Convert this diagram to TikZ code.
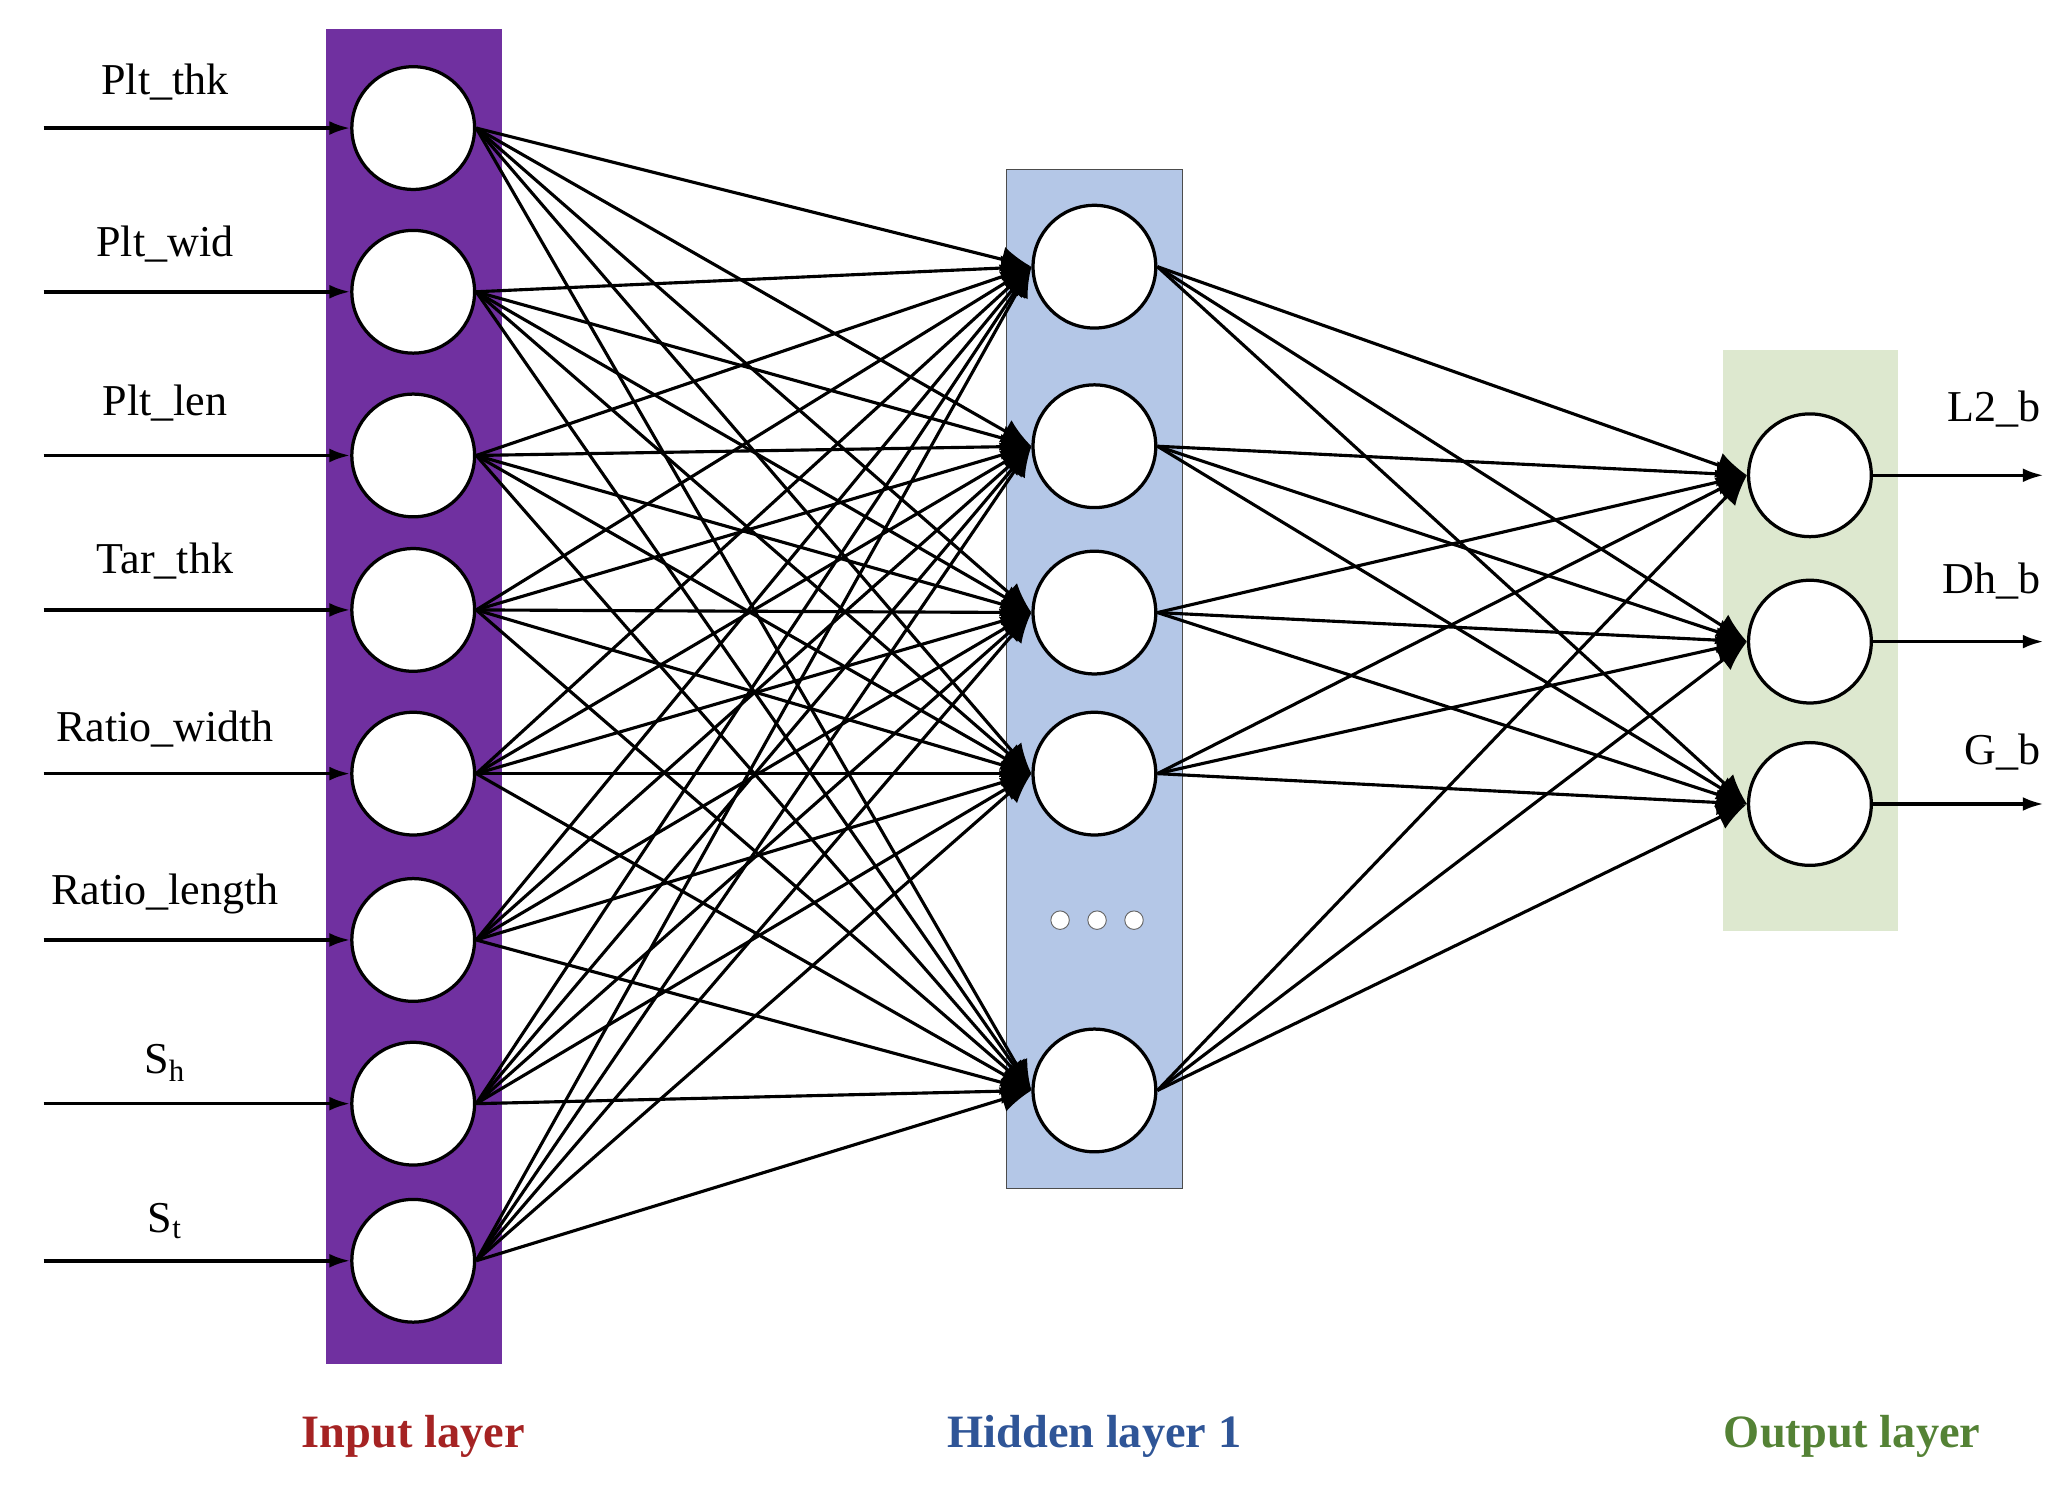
\documentclass[tikz,border=0pt]{standalone}
\usepackage{fontspec}
\setmainfont{Liberation Serif}
\usetikzlibrary{arrows.meta}
\begin{document}
\begin{tikzpicture}[x=0.02cm,y=-0.02cm,
  neuron/.style={circle,draw=black,line width=1.4pt,fill=white,minimum size=1.86cm,inner sep=0pt},
  conn/.style={line width=1.35pt,-{Latex[length=13pt,width=11pt]}},
  io/.style={line width=1.5pt,-{Latex[length=9pt,width=6pt]}},
  lab/.style={font=\fontsize{19}{21}\selectfont},
  layerlab/.style={font=\fontsize{20}{22}\selectfont\bfseries}]
\useasboundingbox (0,0) rectangle (1568,1127);
\fill[fill={rgb,255:red,112;green,48;blue,160}] (247,22) rectangle (380,1033);
\filldraw[fill={rgb,255:red,180;green,199;blue,231},draw=black!70] (762,128) rectangle (896,900);
\fill[fill={rgb,255:red,221;green,232;blue,207}] (1305,265) rectangle (1438,705);
\foreach \i/\y in {1/97,2/221,3/345,4/462,5/586,6/712,7/836,8/955}
  \node[neuron] (i\i) at (313,\y) {};
\foreach \i/\y in {1/202,2/338,3/464,4/586,5/826}
  \node[neuron] (h\i) at (829,\y) {};
\foreach \i/\y in {1/360,2/486,3/609}
  \node[neuron] (o\i) at (1371,\y) {};
\foreach \x in {803,831,859}
  \node[circle,draw=black!60,fill=white,minimum size=0.28cm,inner sep=0pt] at (\x,697) {};
\foreach \i in {1,...,8}\foreach \j in {1,...,5}
  \draw[conn] (i\i.east) -- (h\j.west);
\foreach \j in {1,...,5}\foreach \k in {1,2,3}
  \draw[conn] (h\j.east) -- (o\k.west);
\foreach \i/\y/\t in {1/62/Plt\_thk,2/185/Plt\_wid,3/305/Plt\_len,4/425/Tar\_thk,5/552/Ratio\_width,6/677/Ratio\_length,7/805/S$_\mathrm{h}$,8/925/S$_\mathrm{t}$}{
  \coordinate (s\i) at (33,|-i\i.center);
  \draw[io] (s\i) -- (i\i.west);
  \node[lab] (l\i) at (125,\y) {\t};}
\foreach \k/\y/\t in {1/310/L2\_b,2/440/Dh\_b,3/570/G\_b}{
  \coordinate (e\k) at (1548,|-o\k.center);
  \draw[io] (o\k.east) -- (e\k);
  \node[lab,anchor=east] (m\k) at (1552,\y) {\t};}
\node[layerlab,text={rgb,255:red,165;green,35;blue,35}] (L1) at (313,1088) {Input layer};
\node[layerlab,text={rgb,255:red,47;green,85;blue,151}] (L2) at (829,1088) {Hidden layer 1};
\node[layerlab,text={rgb,255:red,84;green,130;blue,53}] (L3) at (1403,1088) {Output layer};
\end{tikzpicture}
\end{document}
